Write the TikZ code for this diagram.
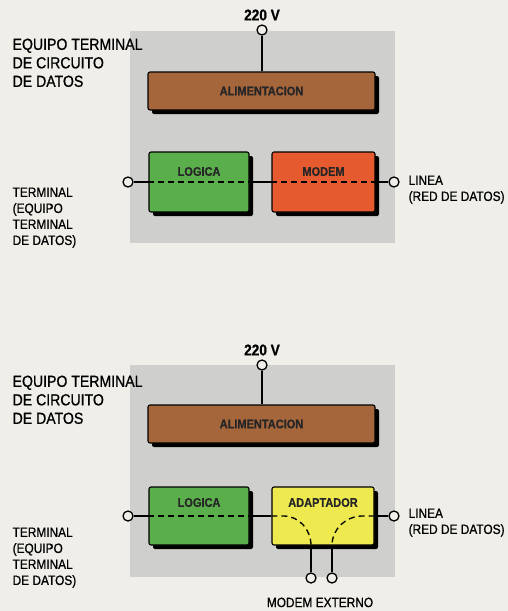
\documentclass[tikz,border=0pt]{standalone}
\usepackage{fontspec}
\setmainfont{Liberation Sans}[FakeStretch=0.88,FakeBold=0.8]
\usetikzlibrary{positioning,shadows}
\definecolor{paper}{HTML}{EFEEE9}
\definecolor{panelgray}{HTML}{CFCFCD}
\definecolor{powerbrown}{HTML}{A5663C}
\definecolor{logicgreen}{HTML}{5BAE4C}
\definecolor{modemred}{HTML}{E55A2E}
\definecolor{adaptyellow}{HTML}{EDE94F}

\begin{document}
\begin{tikzpicture}[x=1pt,y=-1pt,line width=1.3pt,
  blk/.style={draw=black, line width=1.1pt, rounded corners=2pt, inner sep=0pt,
    drop shadow={shadow xshift=4pt, shadow yshift=-4pt, fill=black, opacity=1}},
  tag/.style={inner sep=0pt, font=\fontsize{12.5}{15}\selectfont\bfseries, text=black!85},
  port/.style={circle, draw=black, line width=1.3pt, fill=paper, minimum size=10pt, inner sep=0pt},
  head/.style={align=left, inner sep=0pt, anchor=north west, font=\fontsize{16}{18.5}\selectfont},
  side/.style={align=left, inner sep=0pt, anchor=north west, font=\fontsize{13.5}{16}\selectfont},
  volt/.style={inner sep=0pt, font=\fontsize{15.5}{17}\selectfont\bfseries}
]
\fill[paper] (0,0) rectangle (508,611);
\useasboundingbox (0,0) rectangle (508,611);

% upper drawing: modem inside
\fill[panelgray] (130,31) rectangle (395,243);
\node[head] (ttl1) at (12,38) {EQUIPO TERMINAL\\DE CIRCUITO\\DE DATOS};
\node[side] (dte1) at (12,187) {TERMINAL\\(EQUIPO\\TERMINAL\\DE DATOS)};
\node[side] (lin1) at (408,175) {LINEA\\(RED DE DATOS)};
\node[volt] (v1) at (262,15) {220 V};
\node[port] (pw1) at (262,30) {};

\node[blk, tag, fill=powerbrown, minimum width=227pt, minimum height=38pt]
  (ali1) at (261.5,91) {ALIMENTACION};
\node[blk, fill=logicgreen, minimum width=100pt, minimum height=60pt] (lg1) at (199,182) {};
\node[blk, fill=modemred, minimum width=103pt, minimum height=60pt] (md1) at (323.5,182) {};
\node[tag, below=15pt of lg1.north] {LOGICA};
\node[tag, below=15pt of md1.north] {MODEM};

\node[port] (tm1) at (128,182) {};
\node[port] (ln1) at (394,182) {};

\draw (pw1) -- (pw1 |- ali1.north);
\draw (tm1) -- (lg1.west);
\draw (lg1.east) -- (md1.west);
\draw (md1.east) -- (ln1);
\draw[dashed, dash pattern=on 6pt off 4pt] (lg1.west) -- (lg1.east);
\draw[dashed, dash pattern=on 6pt off 4pt] (md1.west) -- (md1.east);

% lower drawing: adapter with external modem
\fill[panelgray] (130,365) rectangle (395,577);
\node[head] (ttl2) at (12,375) {EQUIPO TERMINAL\\DE CIRCUITO\\DE DATOS};
\node[side] (dte2) at (12,527) {TERMINAL\\(EQUIPO\\TERMINAL\\DE DATOS)};
\node[side] (lin2) at (408,508) {LINEA\\(RED DE DATOS)};
\node[volt] (v2) at (262,350) {220 V};
\node[port] (pw2) at (262,365) {};

\node[blk, tag, fill=powerbrown, minimum width=227pt, minimum height=38pt]
  (ali2) at (261.5,424) {ALIMENTACION};
\node[blk, fill=logicgreen, minimum width=100pt, minimum height=58pt] (lg2) at (199,516) {};
\node[blk, fill=adaptyellow, minimum width=102pt, minimum height=58pt] (ad2) at (323,516) {};
\node[tag, below=11pt of lg2.north] {LOGICA};
\node[tag, below=11pt of ad2.north] {ADAPTADOR};

\node[port] (tm2) at (128,516) {};
\node[port] (ln2) at (394,516) {};
\node[port] (mx1) at (311,578) {};
\node[port] (mx2) at (332,578) {};
\node[side, anchor=north] (mxt) at (320,597) {MODEM EXTERNO};

\draw (pw2) -- (pw2 |- ali2.north);
\draw (tm2) -- (lg2.west);
\draw (lg2.east) -- (ad2.west);
\draw (ad2.east) -- (ln2);
\draw (mx1) -- (mx1 |- ad2.south);
\draw (mx2) -- (mx2 |- ad2.south);
\draw[dashed, dash pattern=on 6pt off 4pt] (lg2.west) -- (lg2.east);
\draw[dashed, dash pattern=on 6pt off 4pt] (ad2.west) -- ++(12,0) to[out=0,in=90] (mx1 |- ad2.south);
\draw[dashed, dash pattern=on 6pt off 4pt] (ad2.east) -- ++(-12,0) to[out=180,in=90] (mx2 |- ad2.south);
\end{tikzpicture}
\end{document}
